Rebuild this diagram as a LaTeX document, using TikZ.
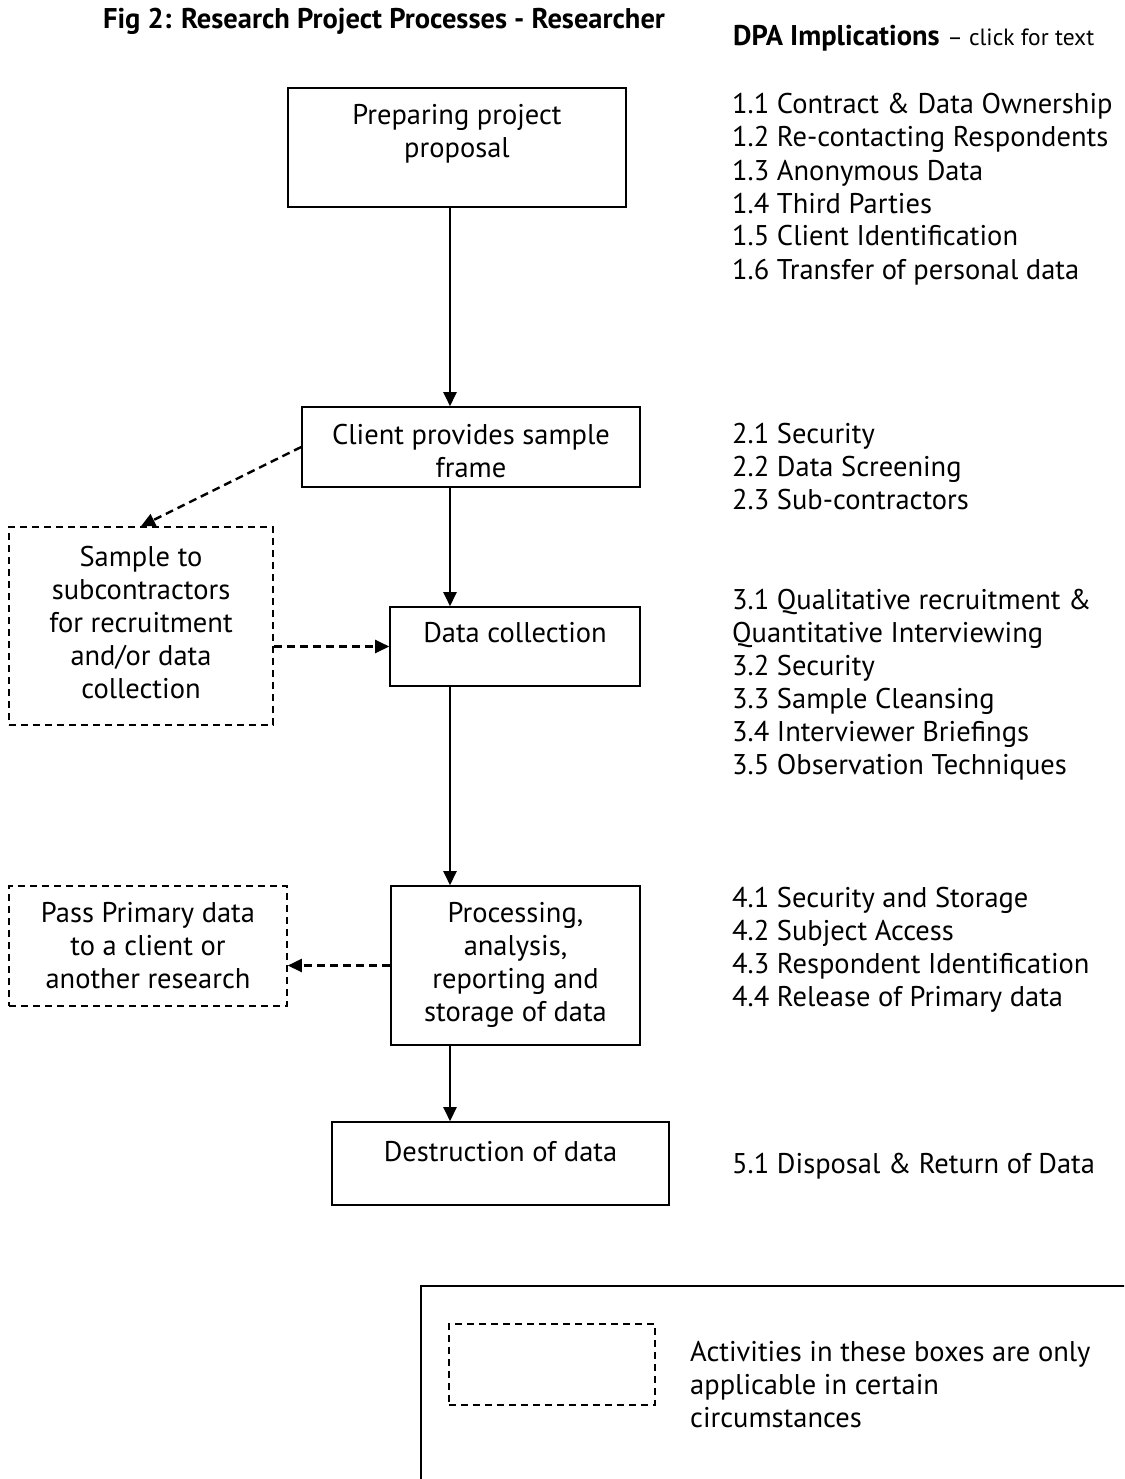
\documentclass[tikz,border=0pt]{standalone}
\usepackage{fontspec}
\setmainfont{PT Sans}
\usetikzlibrary{arrows.meta,calc}
\begin{document}
\begin{tikzpicture}[x=1pt,y=-1pt,
  box/.style={draw, line width=1.6pt, inner sep=0pt},
  dbox/.style={draw, line width=1.6pt, dash pattern=on 7pt off 5pt, inner sep=0pt},
  txt/.style={inner sep=0pt, align=center, font=\fontsize{28.5}{33}\selectfont},
  ltxt/.style={inner sep=0pt, align=left, font=\fontsize{28.5}{33}\selectfont},
  arr/.style={line width=2.4pt, -{Triangle[length=14pt,width=13pt]}},
  darr/.style={line width=2.4pt, dash pattern=on 8pt off 5pt, -{Triangle[length=14pt,width=13pt]}},
]
\useasboundingbox (0,0) rectangle (1124,1479);
\clip (0,0) rectangle (1124,1479);

% titles
\node[inner sep=0pt, anchor=base, font=\fontsize{28.5}{32}\selectfont\bfseries] (title) at (384,29) {Fig 2: Research Project Processes - Researcher};
\node[inner sep=0pt, anchor=base west, font=\fontsize{28.5}{32}\selectfont] (dpa) at (733,46) {\textbf{DPA Implications} {\fontsize{23.5}{27}\selectfont -- click for text}};

% main boxes (text anchored at baseline of last line)
\node[box, minimum width=338pt, minimum height=119pt] (prep) at (457,147.5) {};
\node[txt, anchor=base] (preptxt) at (457,158) {Preparing project\\proposal};

\node[box, minimum width=338pt, minimum height=80pt] (client) at (471,447) {};
\node[txt, anchor=base] (clienttxt) at (471,477) {Client provides sample\\frame};

\node[box, minimum width=250pt, minimum height=79pt] (collect) at (515,646.5) {};
\node[txt, anchor=base] (collecttxt) at (515,642) {Data collection};

\node[box, minimum width=249pt, minimum height=159pt] (proc) at (515.5,965.5) {};
\node[txt, anchor=base] (proctxt) at (515.5,1021) {Processing,\\analysis,\\reporting and\\storage of data};

\node[box, minimum width=337pt, minimum height=83pt] (destr) at (500.5,1163.5) {};
\node[txt, anchor=base] (destrtxt) at (500.5,1161) {Destruction of data};

% optional boxes
\node[dbox, minimum width=264pt, minimum height=198pt] (sample) at (141,626) {};
\node[txt, anchor=base] (sampletxt) at (141,698) {Sample to\\subcontractors\\for recruitment\\and/or data\\collection};

\node[dbox, minimum width=278pt, minimum height=120pt] (pass) at (148,946) {};
\node[txt, anchor=base] (passtxt) at (148,988) {Pass Primary data\\to a client or\\another research};

% connectors
\draw[arr] (prep.south -| 450,0) -- (client.north -| 450,0);
\draw[arr] (client.south -| 450,0) -- (collect.north -| 450,0);
\draw[arr] (collect.south -| 450,0) -- (proc.north -| 450,0);
\draw[arr] (proc.south -| 450,0) -- (destr.north -| 450,0);
\draw[darr] (client.west) -- (sample.north);
\draw[darr] (collect.west -| sample.east) -- (collect.west);
\draw[darr] (proc.west) -- (proc.west -| pass.east);

% DPA implications
\node[ltxt, anchor=base west] (dpa1) at (732,279) {1.1 Contract \& Data Ownership\\1.2 Re-contacting Respondents\\1.3 Anonymous Data\\1.4 Third Parties\\1.5 Client Identification\\1.6 Transfer of personal data};
\node[ltxt, anchor=base west] (dpa2) at (732,509) {2.1 Security\\2.2 Data Screening\\2.3 Sub-contractors};
\node[ltxt, anchor=base west] (dpa3) at (732,774) {3.1 Qualitative recruitment \&\\Quantitative Interviewing\\3.2 Security\\3.3 Sample Cleansing\\3.4 Interviewer Briefings\\3.5 Observation Techniques};
\node[ltxt, anchor=base west] (dpa4) at (732,1006) {4.1 Security and Storage\\4.2 Subject Access\\4.3 Respondent Identification\\4.4 Release of Primary data};
\node[ltxt, anchor=base west] (dpa5) at (732,1173) {5.1 Disposal \& Return of Data};

% legend
\node[box, anchor=north west, minimum width=740pt, minimum height=230pt] (legend) at (420,1285) {};
\node[dbox, minimum width=206pt, minimum height=81pt] (legdash) at (552,1364.5) {};
\node[ltxt, anchor=base west] (legtxt) at (690,1427) {Activities in these boxes are only\\applicable in certain\\circumstances};
\end{tikzpicture}
\end{document}
